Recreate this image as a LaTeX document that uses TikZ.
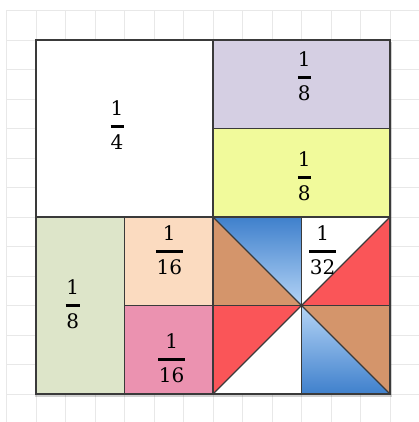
\documentclass[tikz,border=0pt]{standalone}
\usepackage{fontspec}
\setmainfont{DejaVu Serif}
\newcommand\myfrac[3]{#1\\\rule[4.5pt]{#3}{3pt}\\#2}
\definecolor{gridc}{HTML}{E8E8E8}
\definecolor{linec}{HTML}{3A3A3A}
\definecolor{lav}{HTML}{D5CFE3}
\definecolor{yel}{HTML}{F1FA9B}
\definecolor{grn}{HTML}{DDE5C9}
\definecolor{peach}{HTML}{FBDBC0}
\definecolor{pinkc}{HTML}{EB92B0}
\definecolor{brownc}{HTML}{D4956B}
\definecolor{redc}{HTML}{FA5558}
\definecolor{bluedark}{HTML}{3F80CC}
\definecolor{bluelight}{HTML}{B4D4F6}
\begin{document}
\begin{tikzpicture}[x=1pt,y=-1pt,
  gridline/.style={draw=gridc, line width=0.8pt},
  part/.style={draw=linec, line width=1.3pt, line join=round},
  lab/.style={font=\fontsize{20}{17}\selectfont, align=center, inner sep=0pt, text=black}]
\useasboundingbox (0,0) rectangle (419,422);
% grid
\foreach \i in {0,...,13} \draw[gridline] ({6.5+29.5*\i},10) -- ({6.5+29.5*\i},422);
\foreach \j in {0,...,14} \draw[gridline] (6.5,{10.5+29.5*\j}) -- (419,{10.5+29.5*\j});
% shadow
\fill[black, opacity=0.18] (34.5,42) rectangle (391.5,396.5);
% rectangles
\filldraw[part, fill=white] (36,40) rectangle (213,217);
\filldraw[part, fill=lav] (213,40) rectangle (390,128.5);
\filldraw[part, fill=yel] (213,128.5) rectangle (390,217);
\filldraw[part, fill=grn] (36,217) rectangle (124.5,394);
\filldraw[part, fill=peach] (124.5,217) rectangle (213,305.5);
\filldraw[part, fill=pinkc] (124.5,305.5) rectangle (213,394);
% pinwheel quadrant
\coordinate (C) at (301.5,305.5);
\shade[top color=bluedark, bottom color=bluelight] (213,217) -- (301.5,217) -- (C) -- cycle;
\fill[brownc] (213,217) -- (C) -- (213,305.5) -- cycle;
\fill[white] (301.5,217) -- (390,217) -- (C) -- cycle;
\fill[redc] (C) -- (390,217) -- (390,305.5) -- cycle;
\fill[redc] (213,305.5) -- (C) -- (213,394) -- cycle;
\fill[white] (C) -- (301.5,394) -- (213,394) -- cycle;
\fill[brownc] (C) -- (390,305.5) -- (390,394) -- cycle;
\shade[top color=bluelight, bottom color=bluedark] (C) -- (390,394) -- (301.5,394) -- cycle;
\draw[part] (301.5,217) -- (301.5,394);
\draw[part] (213,305.5) -- (390,305.5);
\draw[part] (213,217) -- (390,394);
\draw[part] (213,394) -- (390,217);
\draw[part] (213,217) rectangle (390,394);
% outer border
\draw[draw=linec, line width=2pt] (36,40) rectangle (390,394);
% labels
\node[lab] (q4) at (117,125.3) {\myfrac{1}{4}{13pt}};
\node[lab] (e1) at (304.3,76.3) {\myfrac{1}{8}{13pt}};
\node[lab] (e2) at (304.3,176) {\myfrac{1}{8}{13pt}};
\node[lab] (e3) at (72.7,304.3) {\myfrac{1}{8}{14pt}};
\node[lab] (s1) at (169.3,250.3) {\myfrac{1}{16}{27pt}};
\node[lab] (s2) at (171.7,358.3) {\myfrac{1}{16}{27pt}};
\node[lab] (t1) at (322.7,250.3) {\myfrac{1}{32}{27pt}};
\end{tikzpicture}
\end{document}
